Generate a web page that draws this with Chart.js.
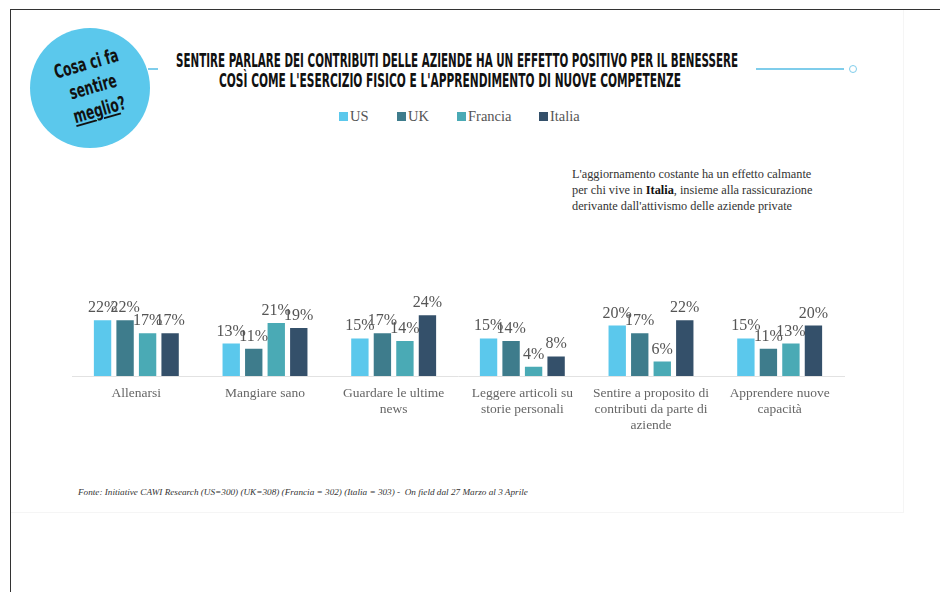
<!DOCTYPE html>
<html>
<head>
<meta charset="utf-8">
<script src="https://cdn.jsdelivr.net/npm/chart.js@4.4.1/dist/chart.umd.min.js"></script>
<style>
  html, body { margin: 0; padding: 0; background: #fff; }
  #page { position: relative; width: 940px; height: 592px; overflow: hidden; }
  .frame-top { position: absolute; left: 10px; top: 9px; width: 930px; height: 1px; background: #333; }
  .frame-left { position: absolute; left: 10px; top: 9px; width: 1px; height: 583px; background: #333; }
  .sheet { position: absolute; left: 11px; top: 10px; width: 892px; height: 502px; border-right: 1px solid #f5f5f5; border-bottom: 1px solid #f5f5f5; }
  .bubble { position: absolute; left: 30px; top: 28px; width: 120px; height: 120px; border-radius: 50%; background: #5BC8EC; }
  .bubble-text { position: absolute; left: 33px; top: 26px; width: 120px; height: 120px; display: flex; flex-direction: column; align-items: center; justify-content: center;
    font-family: "DejaVu Sans", sans-serif; font-weight: bold; font-size: 19px; line-height: 24px; color: #111; transform: rotate(-16deg); }
  .bubble-text div { transform: scaleX(0.64); white-space: nowrap; }
  .bubble-text u { text-decoration-thickness: 2px; text-underline-offset: 2px; }
  .tline { position: absolute; width: 0; height: 20px; }
  .tline span { position: absolute; left: 0; top: 0; white-space: nowrap; transform-origin: center;
    font-family: "DejaVu Sans", sans-serif; font-weight: bold; font-size: 19px; line-height: 20px; color: #111; }
  .deco { position: absolute; height: 2px; background: #7FCDEB; }
  .deco-dot { position: absolute; left: 849px; top: 65px; width: 6px; height: 6px; border: 1.5px solid #7FCDEB; border-radius: 50%; background: #fff; }
  .legend { position: absolute; top: 108px; left: 0; width: 940px; font-family: "Liberation Serif", serif; font-size: 14.5px; color: #555; }
  .legend span { position: absolute; white-space: nowrap; }
  .legend i { display: inline-block; width: 9px; height: 9px; margin-right: 2px; vertical-align: 0px; }
  .note { position: absolute; left: 572px; top: 166px; font-family: "Liberation Serif", serif; font-size: 12.3px; line-height: 16px; color: #333; white-space: nowrap; }
  .source { position: absolute; left: 78px; top: 487px; font-family: "Liberation Serif", serif; font-style: italic; font-size: 9.2px; color: #333; white-space: nowrap; }
  #chartBox { position: absolute; left: 60px; top: 240px; width: 800px; height: 216px; }
</style>
</head>
<body>
<div id="page">
  <div class="sheet"></div>
  <div class="frame-top"></div>
  <div class="frame-left"></div>

  <div class="bubble"></div>
  <div class="bubble-text"><div>Cosa ci fa</div><div>sentire</div><div><u>meglio</u>?</div></div>
  <div class="deco" style="left:148px; top:68px; width:10px;"></div>
  <div class="deco" style="left:756px; top:68px; width:88px;"></div>
  <div class="deco-dot"></div>

  <div class="tline" style="top:50px; left:457px;"><span data-w="562">SENTIRE PARLARE DEI CONTRIBUTI DELLE AZIENDE HA UN EFFETTO POSITIVO PER IL BENESSERE</span></div>
  <div class="tline" style="top:70px; left:450px;"><span data-w="462">COSÌ COME L'ESERCIZIO FISICO E L'APPRENDIMENTO DI NUOVE COMPETENZE</span></div>

  <div class="legend" id="legend"></div>

  <div class="note">L'aggiornamento costante ha un effetto calmante<br>per chi vive in <b style="color:#111">Italia</b>, insieme alla rassicurazione<br>derivante dall'attivismo delle aziende private</div>

  <div id="chartBox"><canvas id="chart"></canvas></div>

  <div class="source">Fonte: Initiative CAWI Research (US=300) (UK=308) (Francia = 302) (Italia = 303) -&nbsp; On field dal 27 Marzo al 3 Aprile</div>
</div>

<script>
// categories and values
const categories = [
    'Allenarsi',
    'Mangiare sano',
    ['Guardare le ultime', 'news'],
    ['Leggere articoli su', 'storie personali'],
    ['Sentire a proposito di', 'contributi da parte di', 'aziende'],
    ['Apprendere nuove', 'capacità']
];
const seriesNames = ['US', 'UK', 'Francia', 'Italia'];
const usValues = [22, 13, 15, 15, 20, 15];
const ukValues = [22, 11, 17, 14, 17, 11];
const franciaValues = [17, 21, 14, 4, 6, 13];
const italiaValues = [17, 19, 24, 8, 22, 20];
const seriesColors = ['#5BC8EC', '#3E7C8C', '#4AAAB5', '#34506A'];
const legendX = [339, 397, 457, 539];

// squeeze the title lines to a condensed look, centred on their anchor
document.querySelectorAll('.tline span').forEach(s => {
    const w = s.getBoundingClientRect().width;
    s.style.transform = `translateX(-50%) scaleX(${parseFloat(s.dataset.w) / w})`;
});

// legend (html, mirrors the dataset colours)
const legendEl = document.getElementById('legend');
seriesNames.forEach((name, i) => {
    const s = document.createElement('span');
    s.style.left = legendX[i] + 'px';
    s.innerHTML = `<i style="background:${seriesColors[i]}"></i>${name}`;
    legendEl.appendChild(s);
});

// percentage labels above each bar
const valueLabels = {
    id: 'valueLabels',
    afterDatasetsDraw(chart) {
        const ctx = chart.ctx;
        ctx.save();
        ctx.font = '16px "Liberation Serif", serif';
        ctx.fillStyle = '#555';
        ctx.textAlign = 'center';
        ctx.textBaseline = 'alphabetic';
        chart.data.datasets.forEach((ds, di) => {
            chart.getDatasetMeta(di).data.forEach((bar, i) => {
                ctx.fillText(ds.data[i] + '%', bar.x, bar.y - 7);
            });
        });
        ctx.restore();
    }
};

const allValues = [usValues, ukValues, franciaValues, italiaValues];

new Chart(document.getElementById('chart'), {
    type: 'bar',
    data: {
        labels: categories,
        datasets: seriesNames.map((name, i) => ({
            label: name,
            data: allValues[i],
            backgroundColor: seriesColors[i],
            borderColor: 'rgba(255,255,255,0.6)',
            borderWidth: 1,
            barPercentage: 0.86,
            categoryPercentage: 0.7
        }))
    },
    options: {
        responsive: true,
        maintainAspectRatio: false,
        animation: false,
        layout: { padding: { top: 33, bottom: 10, left: 12, right: 16 } },
        plugins: {
            legend: { display: false },
            tooltip: { enabled: false }
        },
        scales: {
            y: { display: false, min: 0, max: 40 },
            x: {
                grid: { display: false },
                border: { display: true, color: '#e2e2e2', width: 1 },
                ticks: {
                    color: '#666',
                    font: { family: '"Liberation Serif", serif', size: 13.5, lineHeight: 1.2 },
                    padding: 1,
                    maxRotation: 0,
                    autoSkip: false
                },
                afterFit(axis) { axis.height = 70; }
            }
        }
    },
    plugins: [valueLabels]
});
</script>
</body>
</html>
